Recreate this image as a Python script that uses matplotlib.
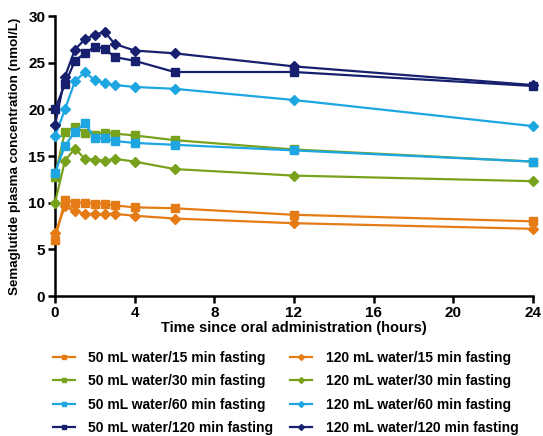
import matplotlib
matplotlib.use("Agg")
import matplotlib.pyplot as plt

plt.rcParams['font.family'] = ['Liberation Sans', 'DejaVu Sans']
plt.rcParams['font.weight'] = 'bold'

time_h = [0, 0.5, 1, 1.5, 2, 2.5, 3, 4, 6, 12, 24]

w50_f15 = [6.0, 10.3, 10.0, 10.0, 9.9, 9.9, 9.7, 9.5, 9.4, 8.7, 8.0]
w120_f15 = [6.7, 9.6, 9.1, 8.8, 8.8, 8.8, 8.8, 8.6, 8.3, 7.8, 7.2]
w50_f30 = [12.8, 17.6, 18.1, 17.5, 17.3, 17.5, 17.4, 17.2, 16.7, 15.7, 14.4]
w120_f30 = [10.0, 14.5, 15.8, 14.7, 14.6, 14.5, 14.7, 14.4, 13.6, 12.9, 12.3]
w50_f60 = [13.2, 16.1, 17.6, 18.5, 16.9, 16.9, 16.6, 16.4, 16.2, 15.6, 14.4]
w120_f60 = [17.1, 20.0, 23.0, 24.0, 23.1, 22.8, 22.6, 22.4, 22.2, 21.0, 18.2]
w50_f120 = [20.0, 22.7, 25.2, 26.0, 26.7, 26.5, 25.6, 25.2, 24.0, 24.0, 22.5]
w120_f120 = [18.3, 23.5, 26.4, 27.5, 28.0, 28.3, 27.0, 26.3, 26.0, 24.6, 22.6]

labels_50 = ["50 mL water/15 min fasting", "50 mL water/30 min fasting",
             "50 mL water/60 min fasting", "50 mL water/120 min fasting"]
labels_120 = ["120 mL water/15 min fasting", "120 mL water/30 min fasting",
              "120 mL water/60 min fasting", "120 mL water/120 min fasting"]

colors = ["#E47B15", "#78A21C", "#1EA6E2", "#17206E"]

fig = plt.figure(figsize=(5.43, 4.36), dpi=100)
ax = fig.add_axes([55/543, 1 - 296/436, (533-55)/543, (296-16)/436])

series50 = [w50_f15, w50_f30, w50_f60, w50_f120]
series120 = [w120_f15, w120_f30, w120_f60, w120_f120]

handles = []
for s, lab, c in zip(series50, labels_50, colors):
    h, = ax.plot(time_h, s, color=c, lw=1.6, marker='s', ms=5.8, label=lab, clip_on=False, zorder=3)
    handles.append(h)
for s, lab, c in zip(series120, labels_120, colors):
    h, = ax.plot(time_h, s, color=c, lw=1.6, marker='D', ms=5.0, label=lab, clip_on=False, zorder=3)
    handles.append(h)

ax.set_xlim(0, 24)
ax.set_ylim(0, 30)
ax.set_xticks(range(0, 25, 4))
ax.set_yticks(range(0, 31, 5))
for sp in ['top', 'right']:
    ax.spines[sp].set_visible(False)
for sp in ['left', 'bottom']:
    ax.spines[sp].set_linewidth(1.8)
ax.tick_params(width=1.8, length=5, labelsize=11, pad=2)
for lbl in ax.get_xticklabels() + ax.get_yticklabels():
    lbl.set_fontweight('bold')

ax.set_xlabel("Time since oral administration (hours)", fontsize=10.5, fontweight='bold', labelpad=1)
ax.set_ylabel("Semaglutide plasma concentration (nmol/L)", fontsize=9.6, fontweight='bold', labelpad=5)

leg = fig.legend(handles=handles, loc='upper left', bbox_to_anchor=(53/543, 1 - 351/436),
                 ncol=2, frameon=False, fontsize=10, handlelength=1.6, markerscale=0.6,
                 columnspacing=1.2, labelspacing=0.67, handletextpad=0.95, borderpad=0,
                 borderaxespad=0)
for t in leg.get_texts():
    t.set_fontweight('bold')

fig.savefig("out.png", dpi=100)
